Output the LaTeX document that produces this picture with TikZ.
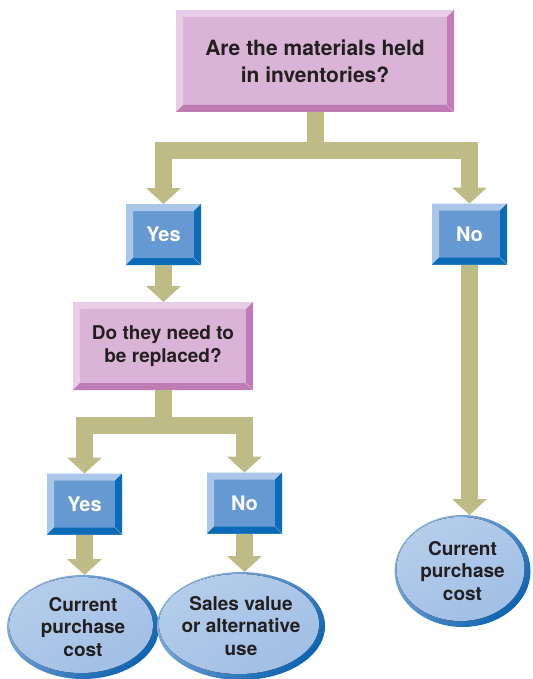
\documentclass[tikz,border=0pt]{standalone}
\usepackage{fontspec}
\setmainfont{TeX Gyre Heros}
\usetikzlibrary{arrows.meta,calc,shapes.geometric}

\definecolor{pinkface}{HTML}{D9B4D6}
\definecolor{pinklight}{HTML}{E7CDE5}
\definecolor{pinkdark}{HTML}{C07AB4}
\definecolor{blueface}{HTML}{6699D1}
\definecolor{bluelight}{HTML}{AAC6E8}
\definecolor{bluedark}{HTML}{0B6BB7}
\definecolor{khaki}{HTML}{BEBB87}
\definecolor{ovallight}{HTML}{B5CDEB}
\definecolor{ovalmid}{HTML}{A0BEE4}
\definecolor{ovaledge}{HTML}{8FB3DF}
\definecolor{ovalrim}{HTML}{0E64B2}
\definecolor{inktext}{HTML}{231F20}

\tikzset{
  % raised panel: light bevel on top/left, dark bevel on right/bottom
  bevel/.style 2 args={
    path picture={
      \def\pb{path picture bounding box}
      \fill[#1] (\pb.north west) -- (\pb.north east)
        -- ([xshift=-7pt,yshift=-7pt]\pb.north east)
        -- ([xshift=7pt,yshift=-7pt]\pb.north west) -- cycle;
      \fill[#1] (\pb.north west) -- ([xshift=7pt,yshift=-7pt]\pb.north west)
        -- ([xshift=7pt,yshift=7pt]\pb.south west) -- (\pb.south west) -- cycle;
      \fill[#2] (\pb.north east) -- (\pb.south east)
        -- ([xshift=-7pt,yshift=7pt]\pb.south east)
        -- ([xshift=-7pt,yshift=-7pt]\pb.north east) -- cycle;
      \fill[#2] (\pb.south west) -- (\pb.south east)
        -- ([xshift=-7pt,yshift=7pt]\pb.south east)
        -- ([xshift=7pt,yshift=7pt]\pb.south west) -- cycle;
      \draw[white, opacity=.4, line width=.6pt] (\pb.south east)
        -- ([xshift=-7pt,yshift=7pt]\pb.south east);
    }
  },
  question/.style={rectangle, fill=pinkface, bevel={pinklight}{pinkdark},
    text=inktext, align=center, inner sep=0pt, outer sep=0pt},
  answer/.style={rectangle, fill=blueface, bevel={bluelight}{bluedark},
    text=white, font=\bfseries\fontsize{20}{24}\selectfont,
    minimum width=75pt, minimum height=61pt, inner sep=0pt, outer sep=0pt},
  % oval with a dark rim towards the lower right
  outcome/.style={ellipse, top color=ovaledge, bottom color=ovalrim,
    shading angle=45, text=inktext, align=center,
    font=\bfseries\fontsize{19}{22.5}\selectfont,
    inner sep=0pt, outer sep=0pt,
    path picture={
      \def\pb{path picture bounding box}
      \fill[top color=ovallight, bottom color=ovalmid, shading angle=30]
        let \p1 = ($(\pb.north east)-(\pb.south west)$) in
        ([xshift=-2pt,yshift=2pt]\pb.center)
        ellipse [x radius={0.5*\x1-4pt}, y radius={0.5*\y1-4pt}];
    }},
  conn/.style={draw=khaki, line width=17pt, line join=miter,
    -{Triangle[width=35pt,length=16pt,line width=0pt]}}
}

\begin{document}
\begin{tikzpicture}[x=1pt, y=-1pt]
  \useasboundingbox (0,0) rectangle (532,679);

  % decision boxes
  \node[question, minimum width=278pt, minimum height=102pt,
        font=\bfseries\fontsize{21}{27}\selectfont]
    (q1) at (315,61) {Are the materials held\\in inventories?};
  \node[answer] (yes1) at (163.5,234.5) {Yes};
  \node[answer] (no1) at (469.5,234) {No};
  \node[question, minimum width=180pt, minimum height=88pt,
        font=\bfseries\fontsize{19}{23}\selectfont]
    (q2) at (163,346) {Do they need to\\be replaced?};
  \node[answer] (yes2) at (84.5,504) {Yes};
  \node[answer] (no2) at (244.5,503) {No};

  % outcomes
  \node[outcome, minimum width=152pt, minimum height=104pt]
    (c1) at (83,627) {Current\\purchase\\cost};
  \node[outcome, minimum width=150pt, minimum height=108pt]
    (c2) at (241,626) {Sales value\\or alternative\\use};
  \node[outcome, minimum width=136pt, minimum height=112pt]
    (c3) at (462.5,571) {Current\\purchase\\cost};

  % connectors
  \draw[conn] (q1.south) -- ++(0,39) -| (yes1.north);
  \draw[conn] (q1.south) -- ++(0,39) -| (no1.north);
  \draw[conn] (yes1.south) -- (yes1.south |- q2.north);
  \draw[conn] (no1.south) -- (no1.south |- c3.north);
  \draw[conn] (q2.south) -- ++(0,35) -| (yes2.north);
  \draw[conn] (q2.south) -- ++(0,35) -| (no2.north);
  \draw[conn] (yes2.south) -- (yes2.south |- c1.north);
  \draw[conn] (no2.south) -- (no2.south |- c2.north);
\end{tikzpicture}
\end{document}
